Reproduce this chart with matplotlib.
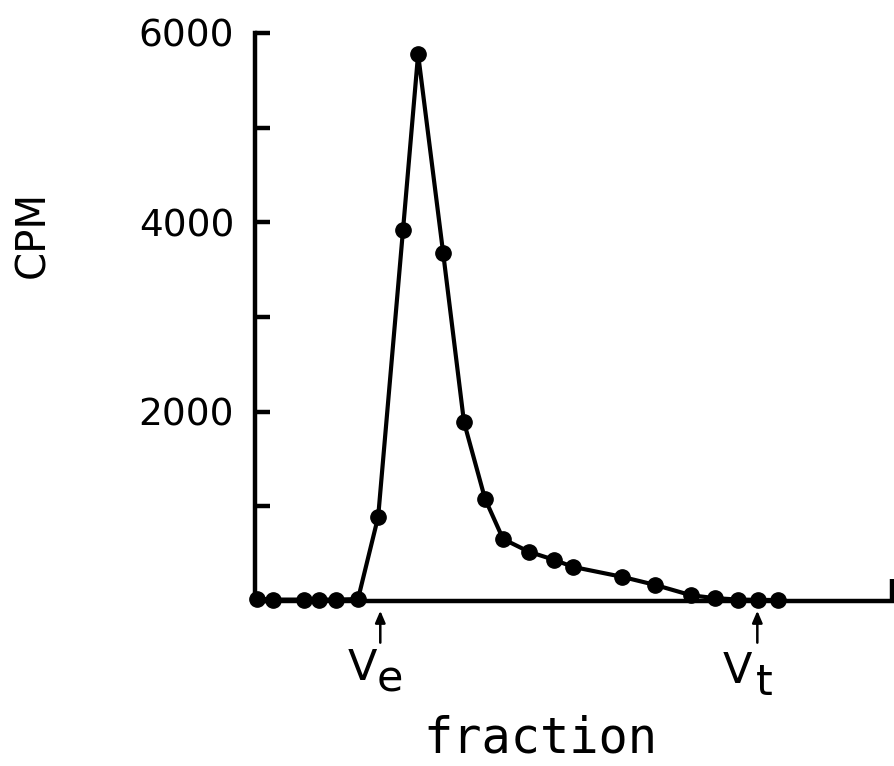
import matplotlib
matplotlib.use("Agg")
import matplotlib.pyplot as plt
from matplotlib.ticker import FixedLocator, FuncFormatter

# elution profile
fraction = [0.1, 0.85, 2.3, 3.0, 3.8, 4.85, 5.8, 6.97, 7.68, 8.86, 9.84, 10.83,
            11.68, 12.9, 14.08, 14.98, 17.29, 18.84, 20.54, 21.67, 22.75, 23.69, 24.63]
cpm = [25, 15, 15, 15, 15, 20, 890, 3920, 5775, 3675, 1890, 1080,
       655, 520, 435, 360, 255, 170, 60, 30, 15, 12, 10]

y_ticks = [0, 1000, 2000, 3000, 4000, 5000, 6000]
y_labels = {2000: "2000", 4000: "4000", 6000: "6000"}

ve_pos = 5.9
vt_pos = 23.65
x_max = 30

fig = plt.figure(figsize=(8.94, 7.66), dpi=100)
ax = fig.add_axes([0.2852, 0.2154, 0.7128, 0.7416])

ax.plot(fraction, cpm, color="black", lw=3, marker="o", markersize=11,
        clip_on=False, zorder=3)

ax.set_xlim(0, x_max)
ax.set_ylim(0, 6000)

for side in ["top", "right"]:
    ax.spines[side].set_visible(False)
for side in ["left", "bottom"]:
    ax.spines[side].set_linewidth(3.2)

ax.yaxis.set_major_locator(FixedLocator(y_ticks))
ax.yaxis.set_major_formatter(FuncFormatter(lambda v, p: y_labels.get(int(round(v)), "")))
ax.tick_params(axis="y", direction="in", length=11, width=3.2, pad=15, labelsize=27)

ax.set_xticks([x_max])
ax.set_xticklabels([""])
ax.tick_params(axis="x", direction="in", length=16, width=3.2)

# Ve / Vt markers
for pos, sub, off in [(ve_pos, "e", (-13, -57, 7, -65.5)), (vt_pos, "t", (-14.5, -59, 5, -67.5))]:
    ax.annotate("", xy=(pos, 0), xycoords="data", xytext=(0, -30), textcoords="offset points",
                arrowprops=dict(arrowstyle="-|>,head_width=0.3,head_length=0.7",
                                color="black", lw=1.8, shrinkA=0, shrinkB=7),
                annotation_clip=False)
    ax.annotate("V", xy=(pos, 0), xytext=(off[0], off[1]), textcoords="offset points",
                ha="center", va="baseline", fontsize=31, annotation_clip=False)
    ax.annotate(sub, xy=(pos, 0), xytext=(off[2], off[3]), textcoords="offset points",
                ha="center", va="baseline", fontsize=31, annotation_clip=False)

fig.text(0.604, 0.017, "fraction", family="DejaVu Sans Mono", fontsize=35,
         ha="center", va="baseline")
fig.text(0.037, 0.6945, "CPM", fontsize=29, rotation=90, ha="center", va="center")

fig.savefig("out.png", dpi=100)
